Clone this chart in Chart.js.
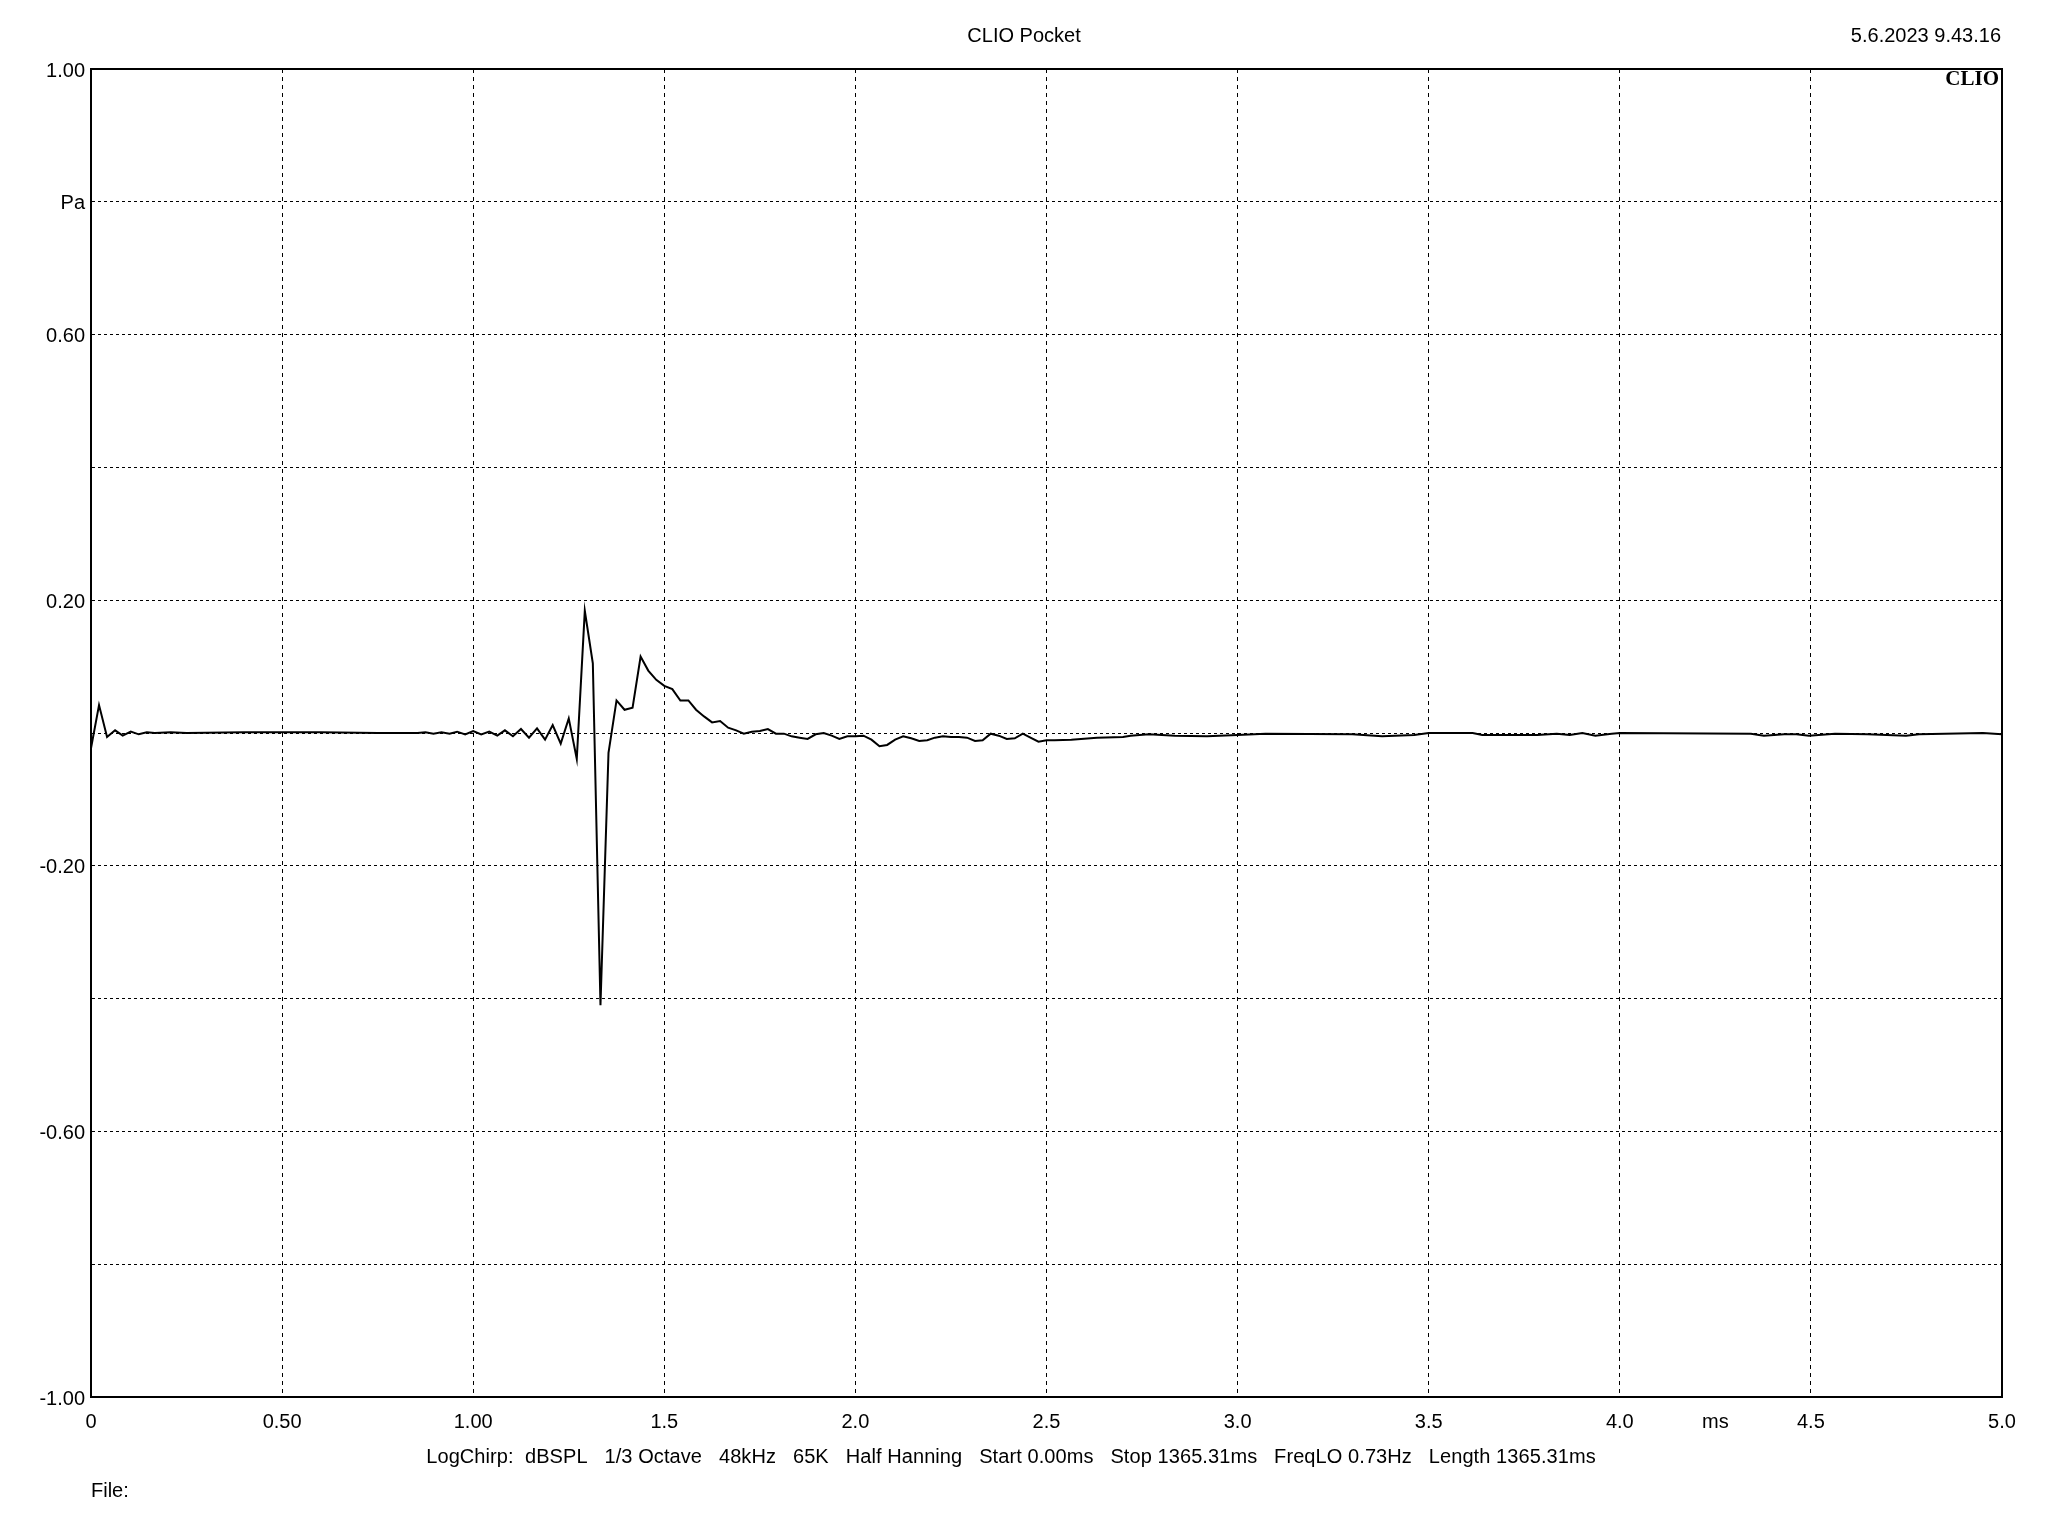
<!DOCTYPE html>
<html>
<head>
<meta charset="utf-8">
<script src="https://cdn.jsdelivr.net/npm/chart.js@4/dist/chart.umd.min.js"></script>
<style>
  body { margin: 0; background: #fff; }
  canvas { display: block; }
</style>
</head>
<body>
<canvas id="myChart" width="2048" height="1536"></canvas>
<script>
// impulse response, time in ms and pressure in Pa
const timeMs = [
  0.000, 0.021, 0.042, 0.063, 0.083, 0.104, 0.125, 0.146, 0.167, 0.208,
  0.250, 0.400, 0.600, 0.750, 0.854, 0.875, 0.896, 0.917, 0.938, 0.958,
  0.979, 1.000, 1.021, 1.042, 1.063, 1.083, 1.104, 1.125, 1.146, 1.167,
  1.188, 1.208, 1.229, 1.250, 1.271, 1.292, 1.313, 1.333, 1.354, 1.375,
  1.396, 1.417, 1.438, 1.458, 1.479, 1.500, 1.521, 1.542, 1.563, 1.583,
  1.604, 1.625, 1.646, 1.667, 1.688, 1.708, 1.729, 1.750, 1.771, 1.792,
  1.813, 1.833, 1.854, 1.875, 1.896, 1.917, 1.938, 1.958, 1.979, 2.000,
  2.021, 2.042, 2.063, 2.083, 2.104, 2.125, 2.146, 2.167, 2.188, 2.208,
  2.229, 2.250, 2.271, 2.292, 2.313, 2.333, 2.354, 2.375, 2.396, 2.417,
  2.438, 2.458, 2.479, 2.500, 2.521, 2.565, 2.632, 2.700, 2.720, 2.768,
  2.836, 2.920, 3.000, 3.073, 3.300, 3.378, 3.462, 3.500, 3.615, 3.640,
  3.784, 3.835, 3.869, 3.902, 3.936, 3.979, 4.000, 4.343, 4.377, 4.430,
  4.462, 4.495, 4.563, 4.648, 4.749, 4.783, 4.950, 5.000
];
const pressurePa = [
  -0.023, 0.042, -0.006, 0.004, -0.004, 0.002, -0.002, 0.001, 0.000, 0.001,
  0.000, 0.001, 0.001, 0.000, 0.000, 0.001, -0.001, 0.001, -0.001, 0.002,
  -0.002, 0.003, -0.002, 0.002, -0.004, 0.004, -0.005, 0.006, -0.007, 0.007,
  -0.010, 0.012, -0.016, 0.022, -0.039, 0.184, 0.105, -0.410, -0.030, 0.049,
  0.035, 0.038, 0.115, 0.094, 0.080, 0.071, 0.066, 0.049, 0.049, 0.035,
  0.025, 0.016, 0.018, 0.008, 0.004, -0.001, 0.002, 0.003, 0.006, -0.001,
  -0.001, -0.005, -0.007, -0.009, -0.002, 0.000, -0.004, -0.009, -0.005, -0.005,
  -0.004, -0.010, -0.020, -0.018, -0.010, -0.005, -0.008, -0.012, -0.011, -0.007,
  -0.005, -0.006, -0.006, -0.007, -0.012, -0.011, -0.001, -0.004, -0.009, -0.008,
  -0.001, -0.007, -0.013, -0.011, -0.011, -0.010, -0.007, -0.006, -0.004, -0.002,
  -0.004, -0.005, -0.003, -0.001, -0.002, -0.005, -0.003, 0.000, 0.000, -0.003,
  -0.003, -0.001, -0.003, 0.000, -0.004, -0.001, 0.000, -0.001, -0.004, -0.002,
  -0.002, -0.004, -0.001, -0.002, -0.004, -0.002, 0.000, -0.002
];

const xTickValues = [0, 0.5, 1, 1.5, 2, 2.5, 3, 3.5, 4, 4.5, 5];
const xTickText = ['0', '0.50', '1.00', '1.5', '2.0', '2.5', '3.0', '3.5', '4.0', '4.5', '5.0'];
const yTickValues = [1, 0.8, 0.6, 0.2, -0.2, -0.6, -1];
const yTickText = ['1.00', 'Pa', '0.60', '0.20', '-0.20', '-0.60', '-1.00'];

const FONT = 'Liberation Sans, Arial, sans-serif';

function lookup(values, texts, v) {
  for (let i = 0; i < values.length; i++) {
    if (Math.abs(values[i] - v) < 1e-6) return texts[i];
  }
  return '';
}

const textPlugin = {
  id: 'clioText',
  afterDraw(chart) {
    const ctx = chart.ctx;
    const area = chart.chartArea;
    ctx.save();
    // frame
    ctx.strokeStyle = '#000';
    ctx.lineWidth = 2;
    ctx.strokeRect(area.left, area.top, area.right - area.left, area.bottom - area.top);

    ctx.fillStyle = '#000';
    ctx.font = '20px ' + FONT;
    ctx.textBaseline = 'middle';
    ctx.textAlign = 'center';
    ctx.fillText('CLIO Pocket', 1024, 36);
    ctx.letterSpacing = '0.08px';
    ctx.fillText('LogChirp:  dBSPL   1/3 Octave   48kHz   65K   Half Hanning   Start 0.00ms   Stop 1365.31ms   FreqLO 0.73Hz   Length 1365.31ms', 1011, 1457);
    ctx.letterSpacing = '0px';
    ctx.fillText('ms', chart.scales.x.getPixelForValue(4.25), 1422);
    ctx.textAlign = 'right';
    ctx.fillText('5.6.2023 9.43.16', 2001, 36);
    ctx.textAlign = 'left';
    ctx.fillText('File:', 91, 1491);

    ctx.font = 'bold 21px Liberation Serif, serif';
    ctx.textAlign = 'right';
    ctx.fillText('CLIO', area.right - 3, 80);
    ctx.restore();
  }
};

const ctx = document.getElementById('myChart').getContext('2d');
const myChart = new Chart(ctx, {
  type: 'line',
  data: {
    datasets: [{
      data: timeMs.map((t, i) => ({ x: t, y: pressurePa[i] })),
      borderColor: '#000',
      borderWidth: 2,
      pointRadius: 0,
      tension: 0,
      fill: false
    }]
  },
  options: {
    responsive: false,
    animation: false,
    devicePixelRatio: 1,
    layout: { padding: { top: 69, right: 46, bottom: 99, left: 0 } },
    plugins: { legend: { display: false }, tooltip: { enabled: false } },
    scales: {
      x: {
        type: 'linear',
        min: 0,
        max: 5,
        afterFit(scale) { scale.height = 40; },
        afterBuildTicks(scale) { scale.ticks = xTickValues.map(v => ({ value: v })); },
        ticks: {
          autoSkip: false,
          maxRotation: 0,
          padding: 13,
          color: '#000',
          font: { family: FONT, size: 20 },
          callback: v => lookup(xTickValues, xTickText, v)
        },
        grid: { color: '#000', lineWidth: 1, drawTicks: false },
        border: { color: '#000', width: 2, dash: [4, 4] }
      },
      y: {
        min: -1,
        max: 1,
        afterFit(scale) { scale.width = 91; },
        afterBuildTicks(scale) {
          const t = [];
          for (let k = -5; k <= 5; k++) t.push({ value: k / 5 });
          scale.ticks = t;
        },
        ticks: {
          autoSkip: false,
          padding: 6,
          labelOffset: 2,
          color: '#000',
          font: { family: FONT, size: 20 },
          callback: v => lookup(yTickValues, yTickText, v)
        },
        grid: { color: '#000', lineWidth: 1, drawTicks: false },
        border: { color: '#000', width: 2, dash: [3, 3] }
      }
    }
  },
  plugins: [textPlugin]
});
</script>
</body>
</html>
